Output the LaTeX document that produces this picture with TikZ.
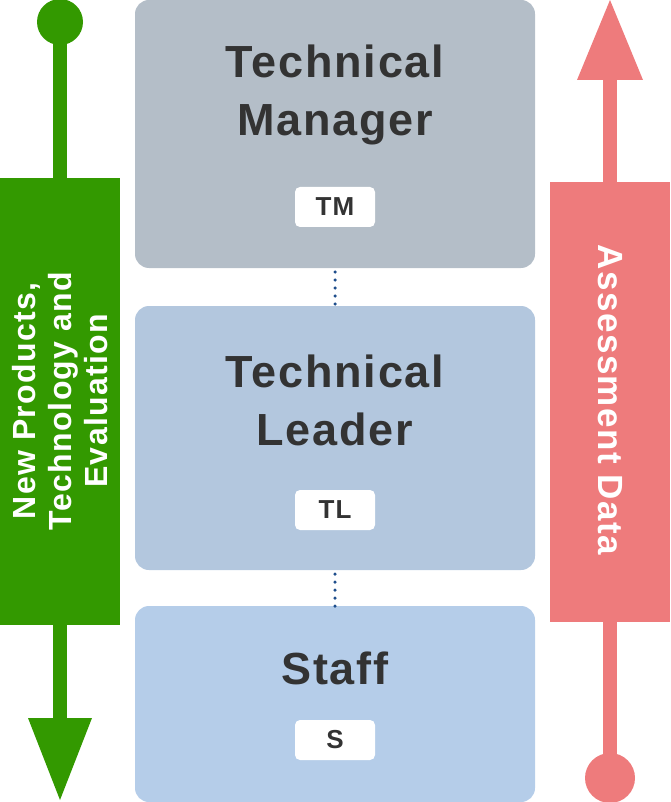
\documentclass[tikz,border=0pt]{standalone}
\usepackage{fontspec}
\setmainfont{Liberation Sans}[LetterSpace=4]
\usetikzlibrary{arrows.meta}
\definecolor{tmc}{HTML}{B4BEC8}
\definecolor{tlc}{HTML}{B3C7DE}
\definecolor{stc}{HTML}{B5CDE9}
\definecolor{grn}{HTML}{339900}
\definecolor{pnk}{HTML}{EE7B7C}
\definecolor{txt}{HTML}{333333}
\definecolor{dotc}{HTML}{1F4E8C}
\tikzset{
 title/.style={font=\fontsize{45}{58}\selectfont\bfseries,text=txt,align=center},
 tag/.style={fill=white,rounded corners=5pt,minimum width=80pt,minimum height=40pt,font=\fontsize{26}{30}\selectfont\bfseries,text=txt},
 side/.style={font=\fontsize{32}{36}\selectfont\bfseries,text=white,align=center},
 link/.style={dotc,line width=3.5pt,line cap=round,dash pattern=on 0pt off 8pt}
}
\begin{document}
\begin{tikzpicture}[x=1pt,y=-1pt]
\useasboundingbox (0,0) rectangle (670,802);
\fill[tmc,rounded corners=14pt] (135,0) rectangle (535,268);
\fill[tlc,rounded corners=14pt] (135,306) rectangle (535,570);
\fill[stc,rounded corners=14pt] (135,606) rectangle (535,802);
\node[title] (tmt) at (335,95) {Technical\\Manager};
\node[tag] (tm) at (335,207) {TM};
\node[title] (tlx) at (335,400) {Technical\\Leader};
\node[tag] (tl) at (335,510) {TL};
\node[title] (stx) at (335,668) {Staff};
\node[tag] (s) at (335,740) {S};
\draw[link] (335,272) -- (335,306);
\draw[link] (335,574) -- (335,606);
\fill[grn] (60,22) circle (23);
\fill[grn] (53,22) rectangle (67,725);
\fill[grn] (28,718) -- (92,718) -- (60,800) -- cycle;
\fill[grn] (0,178) rectangle (120,625);
\node[side,rotate=90] (gt) at (60,401) {New Products,\\Technology and\\Evaluation};
\fill[pnk] (610,778) circle (25);
\fill[pnk] (603,75) rectangle (617,778);
\fill[pnk] (577,80) -- (643,80) -- (610,0) -- cycle;
\fill[pnk] (550,182) rectangle (670,622);
\node[side,rotate=-90,font=\fontsize{35}{40}\selectfont\bfseries] (pt) at (610,400) {Assessment Data};
\end{tikzpicture}
\end{document}
